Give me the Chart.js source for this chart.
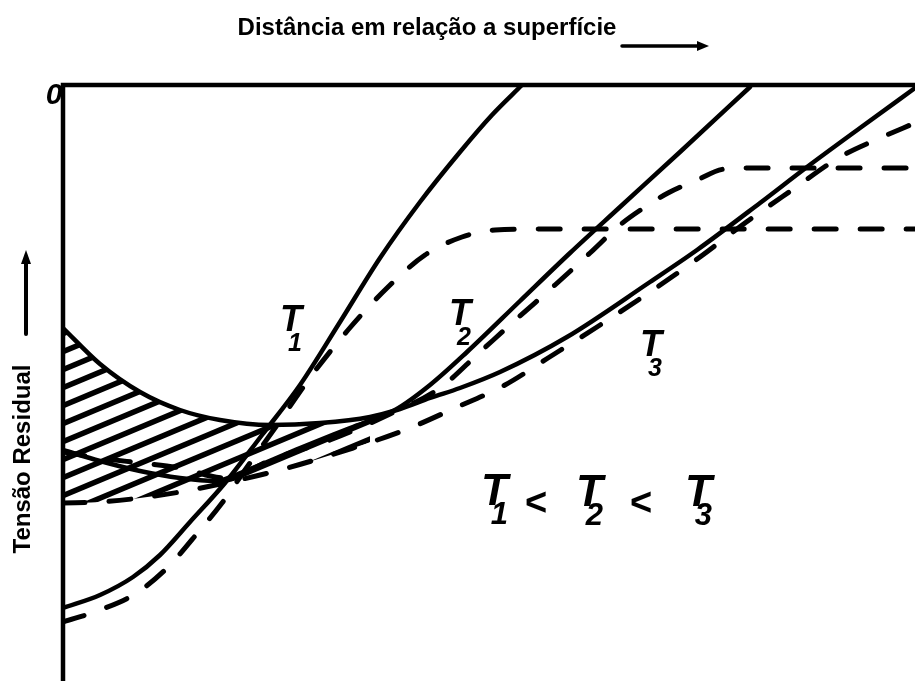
<!DOCTYPE html>
<html>
<head>
<meta charset="utf-8">
<script src="https://cdn.jsdelivr.net/npm/chart.js@4.4.1/dist/chart.umd.min.js"></script>
<style>
    html, body { margin: 0; padding: 0; background: #fff; }
    #wrap { width: 915px; height: 681px; position: relative; }
</style>
</head>
<body>
<div id="wrap"><canvas id="chart_stress"></canvas></div>
<script>
// depth below the surface (x) and residual stress (y, 0 at the top edge), arbitrary units
const t1SolidX = [0, 37, 70, 97, 127, 162, 199, 237, 277, 317, 357, 397, 429, 459];
const t1SolidY = [-523, -510, -492, -470, -437, -398, -350, -300, -237, -173, -117, -67, -30, 0];

const t1DashX = [0, 37, 72, 104, 137, 159, 182, 212, 249, 285, 324, 362, 399, 432, 497, 852];
const t1DashY = [-537, -525, -509, -483, -445, -418, -385, -343, -290, -245, -203, -170, -152, -145, -144, -144];

const t2SolidX = [0, 37, 77, 117, 152, 187, 237, 287, 332, 367, 404, 457, 507, 557, 617, 687];
const t2SolidY = [-365, -376, -386, -393, -396, -384, -363, -343, -325, -300, -267, -216, -168, -122, -67, -2];

const t2DashX = [0, 37, 77, 117, 162, 212, 267, 327, 377, 417, 457, 492, 527, 557, 582, 605, 634, 662, 697, 852];
const t2DashY = [-367, -373, -378, -383, -393, -373, -355, -329, -303, -267, -231, -200, -168, -140, -122, -108, -95, -84, -83, -83];

const t3SolidX = [0, 37, 77, 117, 157, 207, 257, 307, 337, 367, 397, 437, 504, 587, 634, 697, 744, 797, 852];
const t3SolidY = [-243, -279, -307, -325, -335, -340, -338, -332, -324, -313, -303, -287, -252, -197, -165, -118, -82, -43, -3];

const t3DashX = [0, 37, 77, 117, 162, 217, 290, 342, 392, 442, 485, 534, 587, 637, 682, 729, 777, 817, 852];
const t3DashY = [-418, -417, -413, -407, -398, -385, -363, -345, -323, -300, -273, -242, -207, -172, -138, -105, -72, -53, -38];

// the hatched band between the T3 curves ends where they come together
const hatchEnd = 310;

const xLabel = 'Distância em relação a superfície';
const yLabel = 'Tensão Residual';
const curveLabels = [
    { sub: '1', x: 280, y: 331 },
    { sub: '2', x: 449, y: 325 },
    { sub: '3', x: 640, y: 356 },
];
const orderLabels = [
    { sub: '1', x: 481, y: 505 },
    { sub: '2', x: 576, y: 506 },
    { sub: '3', x: 685, y: 506 },
];

const toPoints = (xs, ys) => xs.map((x, i) => ({ x, y: ys[i] }));

const hatchPattern = () => {
    const tile = document.createElement('canvas');
    tile.width = 43;
    tile.height = 18;
    const c = tile.getContext('2d');
    c.strokeStyle = '#000';
    c.lineWidth = 5.5;
    for (const dy of [-18, 0, 18]) {
        c.beginPath();
        c.moveTo(-2, 18 + dy + 0.84);
        c.lineTo(45, dy - 0.84);
        c.stroke();
    }
    return document.getElementById('chart_stress').getContext('2d').createPattern(tile, 'repeat');
};

const solid = (data) => ({
    data,
    borderColor: '#000',
    borderWidth: 4.5,
    borderCapStyle: 'round',
    borderJoinStyle: 'round',
    cubicInterpolationMode: 'monotone',
    pointRadius: 0,
    fill: false,
});

const dashed = (data) => ({
    ...solid(data),
    borderWidth: 5,
    borderDash: [22, 24],
});

// handwritten-looking "T" with its index tucked under the bar
const T = (ctx, label, size, dy) => {
    ctx.font = `italic bold ${size}px "Liberation Sans"`;
    ctx.fillText('T', label.x, label.y);
    ctx.font = `italic bold ${Math.round(size * 0.7)}px "Liberation Sans"`;
    ctx.fillText(label.sub, label.x + size * 0.22, label.y + dy);
};

const sketchLabels = {
    id: 'sketchLabels',
    beforeDraw(chart) {
        const { ctx, width, height } = chart;
        ctx.save();
        ctx.fillStyle = '#fff';
        ctx.fillRect(0, 0, width, height);
        ctx.restore();
    },
    afterDraw(chart) {
        const { ctx, chartArea: a } = chart;
        ctx.save();
        ctx.strokeStyle = '#000';
        ctx.fillStyle = '#000';
        ctx.lineCap = 'square';

        // axes: zero stress along the top, the surface on the left
        ctx.lineWidth = 4.5;
        ctx.beginPath();
        ctx.moveTo(a.right, a.top);
        ctx.lineTo(a.left, a.top);
        ctx.lineTo(a.left, a.bottom);
        ctx.stroke();

        ctx.font = 'italic bold 30px "Liberation Sans"';
        ctx.textAlign = 'center';
        ctx.textBaseline = 'middle';
        ctx.fillText('0', a.left - 9, a.top + 11);

        // axis titles with their arrows
        ctx.font = 'bold 24px "Liberation Sans"';
        ctx.fillText(xLabel, 427, 28);
        ctx.lineWidth = 3.5;
        ctx.lineCap = 'round';
        ctx.beginPath();
        ctx.moveTo(622, 46);
        ctx.lineTo(700, 46);
        ctx.stroke();
        ctx.beginPath();
        ctx.moveTo(709, 46);
        ctx.lineTo(697, 41);
        ctx.lineTo(697, 51);
        ctx.closePath();
        ctx.fill();

        ctx.save();
        ctx.translate(23, 459);
        ctx.rotate(-Math.PI / 2);
        ctx.fillText(yLabel, 0, 0);
        ctx.restore();
        ctx.lineWidth = 4;
        ctx.beginPath();
        ctx.moveTo(26, 334);
        ctx.lineTo(26, 262);
        ctx.stroke();
        ctx.beginPath();
        ctx.moveTo(26, 250);
        ctx.lineTo(21, 264);
        ctx.lineTo(31, 264);
        ctx.closePath();
        ctx.fill();

        // temperature labels
        ctx.textAlign = 'left';
        ctx.textBaseline = 'alphabetic';
        curveLabels.forEach((l) => T(ctx, l, 36, 20));
        orderLabels.forEach((l) => T(ctx, l, 44, 19));
        ctx.font = 'bold 38px "Liberation Sans"';
        ctx.fillText('<', 525, 515);
        ctx.fillText('<', 630, 515);
        ctx.restore();
    },
};

const hatchX = t3SolidX.filter((x) => x <= hatchEnd);
const hatchY = t3SolidY.slice(0, hatchX.length);

const chartStressCTX = document.getElementById('chart_stress');
const chartStress = new Chart(chartStressCTX, {
    type: 'line',
    data: {
        datasets: [
            solid(toPoints(t1SolidX, t1SolidY)),
            dashed(toPoints(t1DashX, t1DashY)),
            solid(toPoints(t2SolidX, t2SolidY)),
            dashed(toPoints(t2DashX, t2DashY)),
            solid(toPoints(t3SolidX, t3SolidY)),
            dashed(toPoints(t3DashX, t3DashY)),
            {
                data: toPoints(hatchX, hatchY),
                borderWidth: 0,
                pointRadius: 0,
                cubicInterpolationMode: 'monotone',
                backgroundColor: hatchPattern(),
                fill: { target: 5 },
                order: 1,
            },
        ],
    },
    options: {
        responsive: true,
        maintainAspectRatio: false,
        animation: false,
        layout: {
            padding: { left: 63, top: 85, right: 0, bottom: 0 },
        },
        scales: {
            x: { type: 'linear', min: 0, max: 852, display: false },
            y: { type: 'linear', min: -596, max: 0, display: false },
        },
        plugins: {
            legend: { display: false },
            title: { display: false },
            tooltip: { enabled: false },
        },
    },
    plugins: [sketchLabels],
});
window.addEventListener('resize', () => chartStress.resize());
</script>
</body>
</html>
